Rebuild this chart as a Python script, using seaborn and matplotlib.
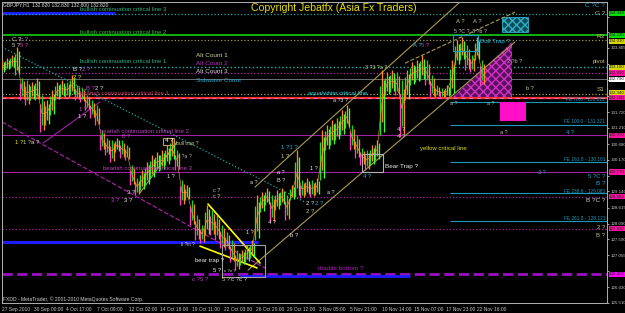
import numpy as np
import pandas as pd
import matplotlib
matplotlib.use("Agg")
import matplotlib.pyplot as plt
import matplotlib.transforms as mtransforms
from matplotlib.patches import Rectangle, Polygon
import seaborn as sns

# ---------------- data ----------------
bar_index = list(range(0, 961, 10))   # H1 bar number of each sampled group of candles
bar_high = [133.41, 133.48, 133.57, 133.83, 132.83, 132.76, 132.70, 132.83, 132.27, 132.11,
            132.44, 132.70, 132.76, 132.70, 132.92, 132.60, 132.50, 132.27, 132.11, 131.95,
            131.14, 130.88, 130.81, 130.88, 130.81, 130.65, 130.00, 129.57, 129.83, 130.10,
            130.32, 130.42, 130.49, 130.65, 130.88, 130.49, 129.51, 129.35, 128.86, 128.37,
            128.05, 128.70, 128.53, 128.37, 128.05, 127.82, 127.56, 127.23, 127.23, 127.40,
            127.56, 129.02, 129.12, 129.25, 129.02, 129.18, 129.25, 129.02, 129.35, 130.49,
            129.51, 129.57, 129.51, 129.57, 131.14, 131.30, 131.46, 131.53, 131.79, 131.95,
            131.30, 130.97, 130.55, 130.49, 130.65, 130.81, 133.09, 133.02, 133.09, 133.02,
            132.76, 133.09, 133.35, 133.41, 133.57, 133.41, 132.92, 132.60, 132.50, 132.60,
            133.41, 134.06, 134.16, 133.90, 133.57, 134.16, 133.41]
bar_low = [133.02, 133.09, 133.15, 132.92, 132.11, 131.95, 132.11, 132.11, 131.07, 131.30,
           131.62, 132.11, 132.21, 132.18, 132.27, 132.11, 132.05, 131.79, 131.53, 131.30,
           130.49, 130.32, 130.10, 130.42, 130.23, 130.16, 129.35, 129.02, 129.18, 129.35,
           129.57, 129.77, 129.83, 130.00, 130.16, 129.83, 128.70, 128.86, 128.05, 127.56,
           127.46, 127.72, 127.72, 127.56, 127.30, 127.23, 126.84, 126.58, 126.75, 126.84,
           126.97, 127.56, 128.47, 128.70, 128.14, 128.53, 128.70, 128.21, 128.86, 128.96,
           128.92, 129.02, 128.96, 129.02, 129.51, 130.49, 130.65, 130.81, 130.97, 131.20,
           130.49, 130.23, 130.00, 129.83, 130.00, 130.16, 130.97, 132.27, 132.37, 132.27,
           130.91, 132.11, 132.60, 132.70, 132.76, 132.60, 132.21, 132.21, 132.18, 132.21,
           132.27, 133.25, 133.41, 133.09, 133.02, 133.41, 132.60]

x_tick_labels = ["27 Sep 2010", "30 Sep 00:00", "4 Oct 17:00", "7 Oct 09:00", "12 Oct 02:00",
                 "14 Oct 18:00", "19 Oct 11:00", "22 Oct 03:00", "26 Oct 20:00", "29 Oct 12:00",
                 "3 Nov 05:00", "5 Nov 21:00", "10 Nov 14:00", "15 Nov 07:00", "17 Nov 23:00",
                 "22 Nov 16:00"]
x_tick_bars = [0, 63, 127, 190, 254, 317, 380, 444, 507, 570, 634, 697, 760, 824, 887, 950]
y_tick_values = [125.510, 126.020, 126.535, 127.055, 127.590, 128.090, 128.615, 129.140,
                 129.655, 130.170, 130.680, 131.210, 131.720, 132.235, 132.750, 133.270,
                 133.805, 134.310, 134.820]

# horizontal levels
level_prices = [134.94, 134.91, 134.225, 134.06, 133.18, 132.99, 132.79, 132.31, 132.18,
                132.05, 131.30, 130.97, 130.10, 129.77, 129.09, 128.96, 128.18, 127.92,
                127.49, 126.45, 126.39]
level_from = [0, 0, 0, 0, 0, 0, 0, 0, 0, 896, 896, 0, 896, 0, 896, 0, 896, 0, 0, 0, 476]
level_to = [226, 1210, 1210, 1210, 1210, 1210, 1210, 1210, 1210, 1210, 1210, 1210, 1210, 1210,
            1210, 1210, 1210, 1210, 512, 1210, 816]
level_colors = ["#1c1cff", "#1fa8a0", "#10d010", "#a09850", "#20b0b0", "#b02cb0", "#707070",
                "#b0a050", "#ff3030", "#1a9ab8", "#1a9ab8", "#a020a0", "#1a9ab8", "#a020a0",
                "#1a9ab8", "#a020a0", "#1a9ab8", "#a020a0", "#1c1cff", "#9a10c0", "#1c1cff"]
level_styles = ["-", ":", "-", ":", ":", ":", "-", ":", "-", "-", "-", "-", "-", "-", "-", ":",
                "-", ":", "-", "--", "-"]
level_widths = [2.2, 0.9, 1.2, 0.9, 1.0, 0.9, 0.7, 0.9, 1.6, 0.8, 0.8, 0.8, 0.8, 0.8, 0.8,
                0.9, 0.8, 0.9, 2.2, 2.0, 2.0]

# price-scale flags
flag_prices = [134.94, 134.225, 134.03, 133.18, 132.99, 132.79, 132.34, 132.18, 130.97,
               129.77, 128.96, 127.92, 126.45]
flag_colors = ["#00e000", "#00e000", "#d8d800", "#d8d800", "#ff10a0", "#ffffff", "#d8d800",
               "#ff10a0", "#ff10a0", "#ff10a0", "#ff10a0", "#ff10a0", "#ff00ff"]

# trend lines: (bar0, price0, bar1, price1)
trend_lines = [(0, 133.83, 606, 128.79), (0, 131.40, 526, 126.65), (492, 126.58, 1026, 134.00),
               (506, 129.28, 916, 135.30), (806, 133.31, 1026, 134.97), (82, 130.71, 196, 132.05),
               (276, 129.09, 350, 130.74), (412, 128.73, 516, 126.81), (396, 127.36, 510, 126.65)]
trend_colors = ["#1fa8a0", "#a020a0", "#a89a50", "#a89a50", "#a89a50", "#a020a0", "#a89a50",
                "#ffff00", "#ffff00"]
trend_styles = [":", "--", "-", "-", "--", "-", "-", "-", "-"]
trend_widths = [0.9, 0.9, 0.8, 0.8, 0.8, 0.8, 0.8, 1.2, 1.2]

# boxes: (bar0, bar1, price_low, price_high)
boxes = [(440, 526, 126.36, 127.40), (720, 762, 129.77, 130.35), (902, 952, 133.70, 134.225),
         (322, 344, 130.65, 130.875)]
box_colors = ["#a0a0a0", "#b0b0b0", "#1a9ab8", "#b0a060"]

# wave-count / note labels: (text, bar, price, colour, size)
labels = [
    ("C ?", 20, 134.09, "#d0d0d0", 4.3), ("c ?", 36, 134.09, "#c060c0", 4.3),
    ("5 ?", 20, 133.90, "#d0d0d0", 4.3), ("5 ?", 36, 133.90, "#c040c0", 4.3),
    ("B ?", 142, 133.12, "#e0e0e0", 4.3), ("2 ?", 160, 133.12, "#c040c0", 4.3),
    ("2 ?", 142, 132.86, "#e0e000", 4.3),
    ("B ?", 168, 132.50, "#c040c0", 4.3), ("2 ?", 186, 132.50, "#e0e0e0", 4.3),
    ("1 ?", 154, 131.79, "#c040c0", 4.3), ("1 ?", 152, 131.56, "#e0e0e0", 4.3),
    ("1 ?", 26, 130.74, "#e0e000", 4.3), ("1 ?", 42, 130.74, "#c8c890", 4.3),
    ("a ?", 58, 130.74, "#e0e0e0", 4.3), ("B ?", 240, 130.91, "#c040c0", 4.0),
    ("3 ?", 250, 129.09, "#e0e0e0", 4.3), ("3 ?", 218, 128.83, "#c040c0", 4.3),
    ("3 ?", 244, 128.83, "#e0e0e0", 4.3),
    ("4 ?", 326, 130.78, "#ffffff", 4.3), ("bull trap ?", 348, 130.71, "#c8c890", 3.6),
    ("a ?a ?", 350, 130.29, "#b0b0b0", 3.8), ("1 ?", 330, 129.61, "#e0e0e0", 4.0),
    ("c ?", 422, 129.18, "#c8c890", 4.0), ("c ?", 422, 128.96, "#c8c890", 4.0),
    ("a ?", 496, 129.44, "#e0e0e0", 4.0), ("a ?", 550, 129.74, "#e0e0e0", 4.0),
    ("B ?", 550, 129.48, "#e0e0e0", 4.0),
    ("1 ?1 ?", 558, 130.58, "#20b0d0", 4.3), ("1 ?", 558, 130.26, "#c8c890", 4.3),
    ("1 ?", 616, 129.90, "#e0e0e0", 4.0),
    ("2 ?", 608, 128.76, "#e0e0e0", 4.3), ("2 ?", 626, 128.76, "#20b0d0", 4.3),
    ("2 ?", 608, 128.50, "#c8c890", 4.3), ("a ?", 650, 129.12, "#e0e0e0", 4.0),
    ("4 ?", 532, 128.14, "#e0e0e0", 4.0), ("b ?", 576, 127.72, "#e0e0e0", 4.3),
    ("1 ?", 488, 127.79, "#e0e0e0", 4.0), ("ii ?iii ?", 358, 127.40, "#e0e0e0", 3.4),
    ("bear trap ?", 386, 126.88, "#e8e8e8", 4.3),
    ("5 ?", 422, 126.58, "#e8e8e8", 4.3), ("c ?v ?", 444, 126.55, "#e0e0e0", 3.2),
    ("c ?5 ?", 380, 126.26, "#c040c0", 4.3), ("5 ?", 440, 126.26, "#c8c890", 4.3),
    ("c ?c ?", 458, 126.26, "#e0e0e0", 4.3),
    ("A ?", 908, 134.65, "#c8c890", 4.3), ("A ?", 942, 134.65, "#c8c890", 4.3),
    ("5 ?C ?", 904, 134.35, "#c0c0c0", 3.8), ("3 ?b ?", 940, 134.35, "#c0c0c0", 3.8),
    ("A ?", 822, 133.90, "#20b0d0", 4.3), ("5 ?", 838, 133.90, "#c040c0", 4.3),
    ("3 ?3 ?a ?", 726, 133.18, "#c8c890", 3.8), ("2 ?b ?", 1010, 133.35, "#b0b0b0", 4.0),
    ("b ?", 1048, 132.50, "#c8c890", 4.0),
    ("a ?", 896, 132.01, "#b0b0b0", 3.8), ("a ?", 970, 132.01, "#b0b0b0", 3.8),
    ("a ?3 ?", 662, 132.11, "#e0e0e0", 3.8),
    ("4 ?", 790, 131.14, "#e0e0e0", 4.3), ("4 ?", 790, 130.91, "#c8c890", 4.3),
    ("4 ?", 722, 129.64, "#20b0d0", 4.3),
    ("yellow critical line", 836, 130.55, "#e0e000", 4.3),
    ("a ?", 996, 131.07, "#c8c890", 4.0), ("4 ?", 1128, 131.07, "#20b0d0", 4.0),
    ("3 ?", 1072, 129.77, "#20b0d0", 4.0),
    ("aqua/white critical line", 612, 132.31, "#20d0e0", 4.3),
    ("double bottom ?", 632, 126.62, "#b020c0", 4.6),
    ("Bear Trap ?", 766, 129.96, "#e8e8e8", 4.6), ("Bull Trap ?", 956, 134.00, "#20b0d0", 4.6),
    ("Alt Count 1", 388, 133.57, "#d0d0a0", 4.6), ("Alt Count 2", 388, 133.31, "#c030c0", 4.6),
    ("Alt Count 3", 388, 133.05, "#d8d8d8", 4.6), ("Subwave Count", 388, 132.76, "#20a8c8", 4.6),
    ("bullish continuation critical line 3", 156, 135.07, "#30b080", 4.3),
    ("bullish continuation critical line 2", 156, 134.32, "#30c030", 4.3),
    ("bullish continuation critical line 1", 156, 133.35, "#30b080", 4.3),
    ("bearish continuation critical line 1", 156, 132.31, "#c03070", 4.3),
    ("bearish continuation critical line 2", 196, 131.10, "#c040c0", 4.3),
    ("bearish continuation critical line 3", 202, 129.90, "#c040c0", 4.3),
]
# right-aligned notes at the right edge: (text, price, colour, size)
right_labels = [
    ("C ?C ?", 135.20, "#20a8c8", 4.6), ("G ?", 134.94, "#b0b0b0", 4.6),
    ("R3", 134.19, "#c8c070", 4.6), ("pivot", 133.38, "#c8c070", 4.3),
    ("S1", 132.44, "#c8c070", 4.6),
    ("FE 78.6 - 131.812", 132.12, "#1a9ab8", 3.4), ("FE 100.0 - 131.321", 131.40, "#1a9ab8", 3.4),
    ("FE 161.8 - 130.181", 130.19, "#1a9ab8", 3.4), ("FE 238.6 - 129.083", 129.15, "#1a9ab8", 3.4),
    ("FE 261.8 - 128.121", 128.27, "#1a9ab8", 3.4),
    ("5 ?C ?", 129.64, "#20a8c8", 4.3), ("B ?", 129.41, "#20a8c8", 4.6),
    ("B ?C ?", 128.83, "#d0d0d0", 4.6), ("2 ?", 127.98, "#c8c070", 4.3),
    ("B ?", 127.72, "#c8c070", 4.3),
]

# ---------------- figure ----------------
sns.set_theme(style="dark", rc={"axes.facecolor": "black", "figure.facecolor": "black",
                                "axes.edgecolor": "#b0b0b0", "axes.grid": False})
plt.rcParams["font.family"] = ["Liberation Sans", "DejaVu Sans"]

W, H = 625, 313
fig = plt.figure(figsize=(W / 100, H / 100), dpi=100)
fig.patch.set_facecolor("black")
ax = fig.add_axes([2 / W, 10 / H, 605 / W, 301 / H])
ax.set_facecolor("black")
ax.set_xlim(0, 1210)
ax.set_ylim(125.51, 135.30)

# horizontal levels
for p, x0, x1, c, ls, lw in zip(level_prices, level_from, level_to, level_colors,
                                level_styles, level_widths):
    ax.hlines(p, x0, x1, colors=c, linestyles=ls, linewidth=lw, zorder=1)
ax.hlines(132.18, 0, 1210, colors="#ff70c8", linestyles=(0, (4, 4)), linewidth=0.7, zorder=1.1)

# trend lines
for (b0, p0, b1, p1), c, ls, lw in zip(trend_lines, trend_colors, trend_styles, trend_widths):
    ax.plot([b0, b1], [p0, p1], color=c, linestyle=ls, linewidth=lw, zorder=2)

# shaded zones
ax.add_patch(Polygon([[902, 132.21], [1020, 132.21], [1020, 134.00]], closed=True,
                     facecolor="#5a1060", edgecolor="#d030c0", hatch="xxxx", linewidth=0,
                     zorder=1.5))
ax.add_patch(Rectangle((1000, 134.32), 52, 0.49, facecolor="#0c4c58", edgecolor="#30b0c8",
                       hatch="xxxx", linewidth=0.6, zorder=1.5))
ax.add_patch(Rectangle((996, 131.43), 52, 0.62, facecolor="#ff10c8", edgecolor="none",
                       zorder=1.5))
for (b0, b1, pl, ph), c in zip(boxes, box_colors):
    ax.add_patch(Rectangle((b0, pl), b1 - b0, ph - pl, fill=False, edgecolor=c,
                           linewidth=0.8, zorder=4))

# price candles (sampled): several thin bars per sample, coloured green / orange / pink
df = pd.DataFrame({"bar": bar_index, "high": bar_high, "low": bar_low})
df["mid"] = (df["high"] + df["low"]) / 2
df["rng"] = df["high"] - df["low"]
up = (df["mid"].diff().fillna(0) >= 0).tolist()
palette_up = ["#22e022", "#ff8a20", "#40ff40"]
palette_dn = ["#ff40c0", "#22d022", "#ff8a20"]
offsets = [-3.4, 0.0, 3.4]
fracs = [(0.0, 0.75), (0.2, 1.0), (0.05, 0.85)]
for j, (off, (f0, f1)) in enumerate(zip(offsets, fracs)):
    cols = [palette_up[j] if u else palette_dn[j] for u in up]
    ax.vlines(df["bar"] + off, df["low"] + df["rng"] * f0, df["low"] + df["rng"] * f1,
              colors=cols, linewidth=0.95, zorder=3)
sns.lineplot(data=df, x="bar", y="mid", ax=ax, color="#ff9a30", linewidth=0.4, zorder=3.2,
             legend=False)

# texts
for t, b, p, c, s in labels:
    ax.text(b, p, t, color=c, fontsize=s, ha="left", va="center", zorder=6)
for t, p, c, s in right_labels:
    ax.text(1206, p, t, color=c, fontsize=s, ha="right", va="center", zorder=6)

# axes styling
ax.set_xlabel("")
ax.set_ylabel("")
for sp in ax.spines.values():
    sp.set_color("#b0b0b0")
    sp.set_linewidth(0.7)
ax.yaxis.tick_right()
ax.set_yticks(y_tick_values)
# tick labels hidden behind a price flag are left blank
ax.set_yticklabels(["" if min(abs(v - f) for f in flag_prices) < 0.17 else f"{v:.3f}"
                    for v in y_tick_values])
ax.set_xticks(x_tick_bars)
ax.set_xticklabels(x_tick_labels)
ax.tick_params(axis="y", colors="#c0c0c0", labelsize=3.2, length=1.5, width=0.6, pad=0.8,
               labelcolor="#c8c8c8")
ax.tick_params(axis="x", colors="#c0c0c0", labelsize=3.5, length=2, width=0.6, pad=0.8,
               labelcolor="#c8c8c8")
for lab in ax.get_xticklabels():
    lab.set_ha("left")

# price-scale flags
trans = mtransforms.blended_transform_factory(ax.transAxes, ax.transData)
for p, c in zip(flag_prices, flag_colors):
    ax.text(1.0035, p, f"{p:.3f}", transform=trans, fontsize=3.2, color="#202020",
            ha="left", va="center", clip_on=False, zorder=10,
            bbox=dict(boxstyle="square,pad=0.12", facecolor=c, edgecolor="none"))

fig.text(3 / W, 1 - 4.5 / H, "GBPJPY,H1  132.820 132.830 132.800 132.820", color="#e0e0e0",
         fontsize=3.6, ha="left", va="center")
fig.text(334 / W, 1 - 8 / H, "Copyright Jebatfx (Asia Fx Traders)", color="#e8e000",
         fontsize=7.6, ha="center", va="center")
fig.text(3 / W, 1 - 299 / H, "FXDD - MetaTrader, \u00a9 2001-2010 MetaQuotes Software Corp.",
         color="#d0d0d0", fontsize=3.6, ha="left", va="center")

fig.savefig("out.png", dpi=100, facecolor="black")
